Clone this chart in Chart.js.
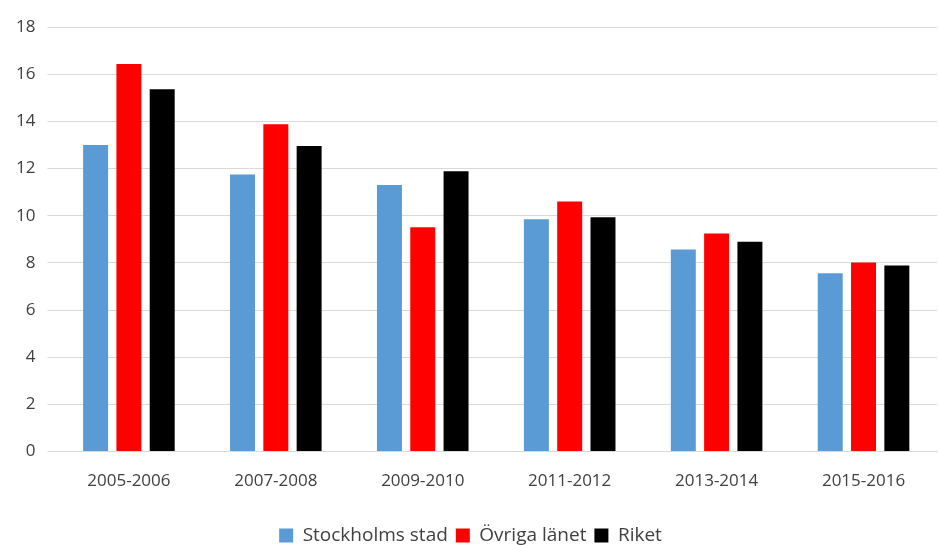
<!DOCTYPE html>
<html>
<head>
<meta charset="UTF-8">
<script src="https://cdn.jsdelivr.net/npm/chart.js"></script>
<style>
  html, body { margin: 0; padding: 0; background: #ffffff; }
  #wrap { width: 939px; height: 545px; position: relative; }
</style>
</head>
<body>
<div id="wrap"><canvas id="chart"></canvas></div>
<script>
const categories = ['2005-2006', '2007-2008', '2009-2010', '2011-2012', '2013-2014', '2015-2016'];
const stockholmsStad = [13.0, 11.75, 11.3, 9.85, 8.57, 7.56];
const ovrigaLanet = [16.43, 13.88, 9.51, 10.6, 9.25, 8.02];
const riket = [15.36, 12.95, 11.88, 9.93, 8.9, 7.89];
const yTicks = [0, 2, 4, 6, 8, 10, 12, 14, 16, 18];

const tickFont = { family: 'Open Sans', size: 17 };

new Chart(document.getElementById('chart'), {
    type: 'bar',
    data: {
        labels: categories,
        datasets: [
            { label: 'Stockholms stad', data: stockholmsStad, backgroundColor: '#5b9bd5' },
            { label: 'Övriga länet', data: ovrigaLanet, backgroundColor: '#ff0000' },
            { label: 'Riket', data: riket, backgroundColor: '#000000' }
        ]
    },
    options: {
        animation: false,
        responsive: true,
        maintainAspectRatio: false,
        layout: { padding: { top: 27, right: 2, left: 4, bottom: -10 } },
        datasets: { bar: { categoryPercentage: 0.68, barPercentage: 0.75 } },
        plugins: {
            legend: {
                position: 'bottom',
                labels: { color: '#404040', font: { family: 'Open Sans', size: 19 }, boxWidth: 14, boxHeight: 14, padding: 8 }
            },
            tooltip: { enabled: false }
        },
        scales: {
            x: {
                grid: { display: false },
                border: { color: '#d9d9d9' },
                ticks: { color: '#404040', font: tickFont, padding: 11 },
                afterFit: axis => { axis.height += 16; }
            },
            y: {
                min: 0,
                max: 18,
                afterBuildTicks: axis => { axis.ticks = yTicks.map(v => ({ value: v })); },
                grid: { color: '#d9d9d9' },
                border: { display: false },
                ticks: { color: '#404040', font: tickFont, padding: 12 }
            }
        }
    }
});
</script>
</body>
</html>
